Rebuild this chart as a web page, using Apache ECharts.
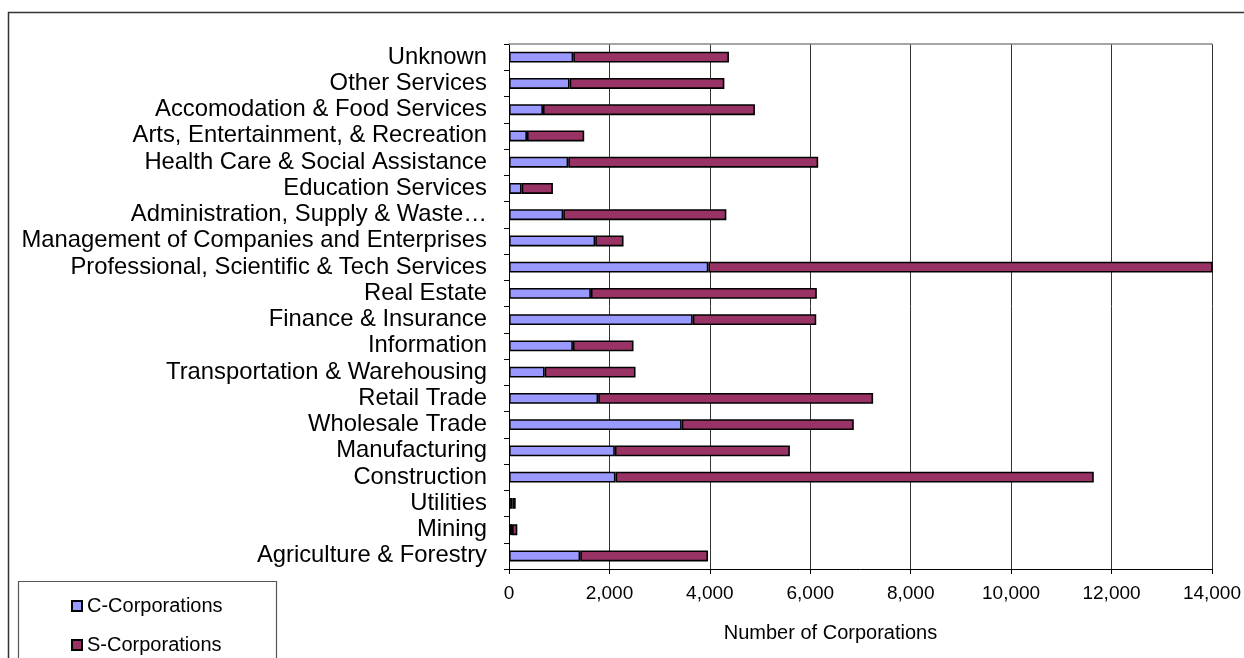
<!DOCTYPE html>
<html>
<head>
<meta charset="utf-8">
<script src="https://cdn.jsdelivr.net/npm/echarts@6/dist/echarts.min.js"></script>
<style>
html,body{margin:0;padding:0;background:#fff;}
#chart{width:1244px;height:658px;}
</style>
</head>
<body>
<div id="chart"></div>
<script>
// Categories (bottom to top)
const categories = [
  "Agriculture & Forestry",
  "Mining",
  "Utilities",
  "Construction",
  "Manufacturing",
  "Wholesale Trade",
  "Retail Trade",
  "Transportation & Warehousing",
  "Information",
  "Finance & Insurance",
  "Real Estate",
  "Professional, Scientific & Tech Services",
  "Management of Companies and Enterprises",
  "Administration, Supply & Waste\u2026",
  "Education Services",
  "Health Care & Social Assistance",
  "Arts, Entertainment, & Recreation",
  "Accomodation & Food Services",
  "Other Services",
  "Unknown"
];
const cCorporations = [1418, 60, 66, 2122, 2108, 3440, 1776, 710, 1273, 3659, 1631, 3971, 1717, 1080, 252, 1180, 358, 676, 1207, 1279];
const sCorporations = [2546, 106, 67, 9525, 3486, 3427, 5476, 1810, 1207, 2460, 4500, 10079, 564, 3249, 623, 4978, 1140, 4222, 3082, 3102];
const seriesNames = ["C-Corporations", "S-Corporations"];
const xTicks = [0, 2000, 4000, 6000, 8000, 10000, 12000, 14000];

const FONT = '"Liberation Sans", Arial, Helvetica, sans-serif';
const chart = echarts.init(document.getElementById('chart'), null, {renderer: 'canvas'});

const legendBase = {
  left: 66,
  itemWidth: 10,
  itemHeight: 10,
  itemTextGap: 4,
  icon: 'rect',
  textStyle: {fontFamily: FONT, fontSize: 20, color: '#000'},
  z: 5
};

const option = {
  backgroundColor: '#ffffff',
  animation: false,
  textStyle: {fontFamily: FONT, color: '#000'},
  graphic: [
    {type: 'rect', shape: {x: 8.5, y: 12.5, width: 1300, height: 700}, style: {fill: 'none', stroke: '#333', lineWidth: 1.5}, z: 0},
    {type: 'rect', shape: {x: 18.5, y: 581.5, width: 258, height: 120}, style: {fill: '#fff', stroke: '#555', lineWidth: 1.2}, z: 1}
  ],
  grid: {left: 509, right: 31, top: 44, bottom: 89},
  legend: [
    Object.assign({}, legendBase, {data: [seriesNames[0]], top: 591}),
    Object.assign({}, legendBase, {data: [seriesNames[1]], top: 630})
  ],
  xAxis: [
    {
      type: 'value',
      min: xTicks[0],
      max: xTicks[xTicks.length - 1],
      interval: 2000,
      position: 'bottom',
      name: 'Number of Corporations',
      nameLocation: 'middle',
      nameGap: 54,
      nameTextStyle: {fontFamily: FONT, fontSize: 20, color: '#000', padding: [0, 60, 0, 0]},
      axisLine: {show: true, lineStyle: {color: '#000', width: 1}},
      axisTick: {show: true, length: 5, lineStyle: {color: '#000'}},
      axisLabel: {
        margin: 15,
        fontFamily: FONT,
        fontSize: 19,
        color: '#000',
        formatter: v => v.toLocaleString('en-US')
      },
      splitLine: {show: true, lineStyle: {color: '#333', width: 1}}
    },
    {
      type: 'value',
      min: xTicks[0],
      max: xTicks[xTicks.length - 1],
      interval: 2000,
      position: 'top',
      axisLine: {show: true, lineStyle: {color: '#888', width: 1.5}},
      axisTick: {show: false},
      axisLabel: {show: false},
      splitLine: {show: false}
    }
  ],
  yAxis: {
    type: 'category',
    data: categories,
    axisLine: {show: true, lineStyle: {color: '#000', width: 1}},
    axisTick: {show: true, length: 5, lineStyle: {color: '#000'}},
    axisLabel: {
      margin: 22,
      fontFamily: FONT,
      fontSize: 23.8,
      color: '#000',
      interval: 0
    },
    splitLine: {show: false}
  },
  series: [
    {
      name: seriesNames[0],
      type: 'bar',
      stack: 'total',
      data: cCorporations,
      barWidth: 11,
      itemStyle: {color: '#9999FF', borderColor: '#000', borderWidth: 1.6},
      clip: true
    },
    {
      name: seriesNames[1],
      type: 'bar',
      stack: 'total',
      data: sCorporations,
      barWidth: 11,
      itemStyle: {color: '#993366', borderColor: '#000', borderWidth: 1.6},
      clip: true
    }
  ]
};
chart.setOption(option);
</script>
</body>
</html>
